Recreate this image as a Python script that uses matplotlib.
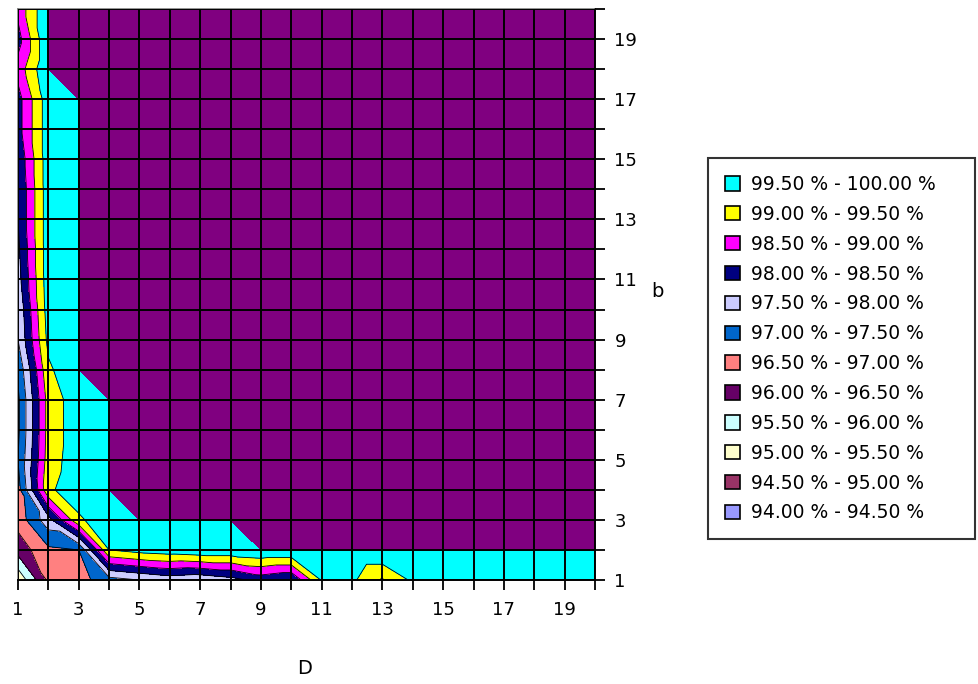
import numpy as np
import matplotlib
matplotlib.use("Agg")
import matplotlib.pyplot as plt
import matplotlib.tri as mtri
from matplotlib.patches import Patch

plt.rcParams['font.family'] = ['DejaVu Sans']

# ---- data: coverage (%) for D = 1..20 (columns) at each b = 1..20 (rows)
D_values = list(range(1, 21))
b_values = list(range(1, 21))

row_b1 = [95.1, 96.6, 96.8, 97.3, 97.5, 97.7, 97.6, 97.8, 98.2, 98.0,
          99.55, 99.6, 98.95, 99.6, 99.7, 99.7, 99.7, 99.7, 99.7, 99.7]
row_b2 = [96.2, 96.9, 97.0, 99.5, 99.7, 99.8, 99.9, 99.9, 100, 100,
          100, 100, 100, 100, 100, 100, 100, 100, 100, 100]
row_b3 = [96.7, 97.8, 99.4, 99.9, 100, 100, 100, 100, 100, 100,
          100, 100, 100, 100, 100, 100, 100, 100, 100, 100]
row_b4 = [96.8, 99.4, 99.85, 100, 100, 100, 100, 100, 100, 100,
          100, 100, 100, 100, 100, 100, 100, 100, 100, 100]
row_b5 = [97.0, 99.25, 99.8, 100, 100, 100, 100, 100, 100, 100,
          100, 100, 100, 100, 100, 100, 100, 100, 100, 100]
row_b6 = [96.9, 99.2, 99.8, 100, 100, 100, 100, 100, 100, 100,
          100, 100, 100, 100, 100, 100, 100, 100, 100, 100]
row_b7 = [96.9, 99.2, 99.8, 100, 100, 100, 100, 100, 100, 100,
          100, 100, 100, 100, 100, 100, 100, 100, 100, 100]
row_b8 = [97.1, 99.4, 100, 100, 100, 100, 100, 100, 100, 100,
          100, 100, 100, 100, 100, 100, 100, 100, 100, 100]
row_b9 = [97.5, 99.65, 100, 100, 100, 100, 100, 100, 100, 100,
          100, 100, 100, 100, 100, 100, 100, 100, 100, 100]
row_b10 = [97.6, 99.75, 100, 100, 100, 100, 100, 100, 100, 100,
           100, 100, 100, 100, 100, 100, 100, 100, 100, 100]
row_b11 = [97.8, 99.8, 100, 100, 100, 100, 100, 100, 100, 100,
           100, 100, 100, 100, 100, 100, 100, 100, 100, 100]
row_b12 = [97.9, 99.8, 100, 100, 100, 100, 100, 100, 100, 100,
           100, 100, 100, 100, 100, 100, 100, 100, 100, 100]
row_b13 = [98.0, 99.8, 100, 100, 100, 100, 100, 100, 100, 100,
           100, 100, 100, 100, 100, 100, 100, 100, 100, 100]
row_b14 = [98.0, 99.8, 100, 100, 100, 100, 100, 100, 100, 100,
           100, 100, 100, 100, 100, 100, 100, 100, 100, 100]
row_b15 = [98.1, 99.8, 100, 100, 100, 100, 100, 100, 100, 100,
           100, 100, 100, 100, 100, 100, 100, 100, 100, 100]
row_b16 = [98.3, 99.8, 100, 100, 100, 100, 100, 100, 100, 100,
           100, 100, 100, 100, 100, 100, 100, 100, 100, 100]
row_b17 = [98.3, 99.8, 100, 100, 100, 100, 100, 100, 100, 100,
           100, 100, 100, 100, 100, 100, 100, 100, 100, 100]
row_b18 = [98.7, 100, 100, 100, 100, 100, 100, 100, 100, 100,
           100, 100, 100, 100, 100, 100, 100, 100, 100, 100]
row_b19 = [98.3, 100, 100, 100, 100, 100, 100, 100, 100, 100,
           100, 100, 100, 100, 100, 100, 100, 100, 100, 100]
row_b20 = [98.65, 100, 100, 100, 100, 100, 100, 100, 100, 100,
           100, 100, 100, 100, 100, 100, 100, 100, 100, 100]

band_labels = ["99.50 % - 100.00 %", "99.00 % - 99.50 %", "98.50 % - 99.00 %",
               "98.00 % - 98.50 %", "97.50 % - 98.00 %", "97.00 % - 97.50 %",
               "96.50 % - 97.00 %", "96.00 % - 96.50 %", "95.50 % - 96.00 %",
               "95.00 % - 95.50 %", "94.50 % - 95.00 %", "94.00 % - 94.50 %"]
band_colors = ["#00FFFF", "#FFFF00", "#FF00FF", "#000080", "#CCCCFF", "#0066CC",
               "#FF8080", "#660066", "#CCFFFF", "#FFFFCC", "#993366", "#9999FF"]
top_color = "#800080"   # 100 %
band_edges = [94.0, 94.5, 95.0, 95.5, 96.0, 96.5, 97.0, 97.5, 98.0, 98.5, 99.0, 99.5, 100.0]

rows = [row_b1, row_b2, row_b3, row_b4, row_b5, row_b6, row_b7, row_b8, row_b9, row_b10,
        row_b11, row_b12, row_b13, row_b14, row_b15, row_b16, row_b17, row_b18, row_b19, row_b20]
Z = np.array(rows, dtype=float)

# ---- triangulation: each cell split along its (D, b+1)-(D+1, b) diagonal
nx, ny = len(D_values), len(b_values)
XX, YY = np.meshgrid(D_values, b_values)
x = XX.ravel().astype(float)
y = YY.ravel().astype(float)
z = Z.ravel()
tris = []
for j in range(ny - 1):
    for i in range(nx - 1):
        p00 = j * nx + i
        p10 = j * nx + i + 1
        p01 = (j + 1) * nx + i
        p11 = (j + 1) * nx + i + 1
        tris.append([p00, p10, p01])
        tris.append([p10, p11, p01])
triang = mtri.Triangulation(x, y, np.array(tris))

W, H = 979, 684
fig = plt.figure(figsize=(W / 100, H / 100), dpi=100)
ax = fig.add_axes([18 / W, 1 - 580 / H, 577 / W, 571 / H])

levels = band_edges[:-1] + [band_edges[-1] - 1e-6, 100.5]
fill_colors = list(reversed(band_colors)) + [top_color]
ax.tricontourf(triang, z, levels=levels, colors=fill_colors, zorder=1)
ax.tricontour(triang, z, levels=band_edges[1:-1], colors="black",
              linewidths=0.6, zorder=2)

ax.set_xlim(1, 20)
ax.set_ylim(1, 20)
ax.set_xticks(D_values)
ax.set_xticklabels([str(v) if v % 2 == 1 else "" for v in D_values], fontsize=13)
ax.yaxis.tick_right()
ax.set_yticks(b_values)
ax.set_yticklabels([str(v) if v % 2 == 1 else "" for v in b_values], fontsize=13)
ax.grid(True, color="black", linewidth=1.4)
ax.set_axisbelow(False)
ax.tick_params(axis="x", direction="out", length=7, width=1.3, pad=8, colors="black")
ax.tick_params(axis="y", direction="out", length=7, width=1.3, pad=7, colors="black")
for side in ["left", "top"]:
    ax.spines[side].set_color("#808080")
    ax.spines[side].set_linewidth(1.2)
for side in ["right", "bottom"]:
    ax.spines[side].set_color("black")
    ax.spines[side].set_linewidth(1.4)

fig.text(305 / W, 1 - 668 / H, "D", fontsize=14, ha="center", va="center")
fig.text(657 / W, 1 - 292 / H, "b", fontsize=14, ha="center", va="center")

handles = [Patch(facecolor=c, edgecolor="black", linewidth=1.2) for c in band_colors]
leg = fig.legend(handles, band_labels, loc="upper left",
                 bbox_to_anchor=(708 / W, 1 - 543 / H, 267 / W, 385 / H),
                 mode="expand", fontsize=13.5, frameon=True, fancybox=False,
                 edgecolor="black", handlelength=0.8, handleheight=0.8,
                 handletextpad=0.6, labelspacing=0.58, borderpad=0.9,
                 borderaxespad=0)
leg.get_frame().set_linewidth(1.5)

fig.savefig("out.png", dpi=100, facecolor="white")
